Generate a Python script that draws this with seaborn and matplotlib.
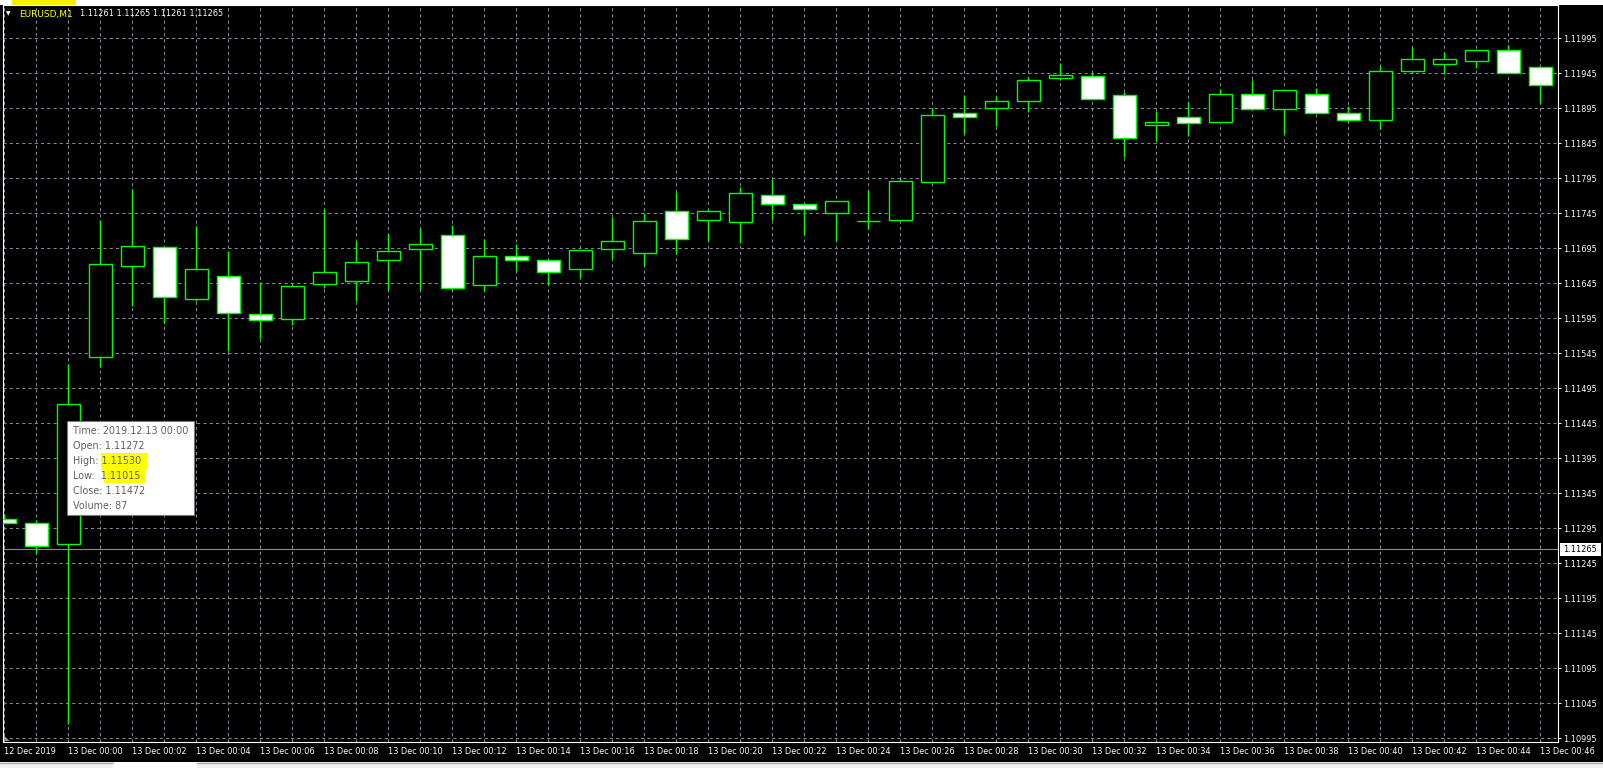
import matplotlib
matplotlib.use("Agg")
import matplotlib.pyplot as plt
from matplotlib.patches import Rectangle, Polygon
from matplotlib.ticker import FixedLocator
import seaborn as sns
import pandas as pd

# ---------------- data ----------------
minutes = list(range(-2, 47))  # minute offsets relative to 13 Dec 00:00
opens = [1.11308, 1.11302, 1.11272, 1.11539, 1.11670, 1.11697, 1.11622, 1.11656,
         1.11601, 1.11594, 1.11644, 1.11649, 1.11679, 1.11694, 1.11714, 1.11642,
         1.11684, 1.11679, 1.11665, 1.11694, 1.11688, 1.11749, 1.11736, 1.11732,
         1.11771, 1.11759, 1.11746, 1.11734, 1.11735, 1.11790, 1.11889, 1.11895,
         1.11906, 1.11939, 1.11941, 1.11914, 1.11871, 1.11882, 1.11875, 1.11916,
         1.11894, 1.11915, 1.11889, 1.11878, 1.11949, 1.11959, 1.11962, 1.11978,
         1.11954]
highs = [1.11316, 1.11307, 1.11530, 1.11736, 1.11780, 1.11699, 1.11727, 1.11691,
         1.11647, 1.11643, 1.11751, 1.11706, 1.11715, 1.11724, 1.11728, 1.11709,
         1.11701, 1.11680, 1.11693, 1.11740, 1.11746, 1.11775, 1.11751, 1.11782,
         1.11794, 1.11760, 1.11762, 1.11779, 1.11794, 1.11896, 1.11914, 1.11912,
         1.11940, 1.11960, 1.11946, 1.11919, 1.11891, 1.11904, 1.11922, 1.11936,
         1.11921, 1.11924, 1.11898, 1.11955, 1.11983, 1.11975, 1.11979, 1.11985,
         1.11955]
lows = [1.11302, 1.11259, 1.11015, 1.11525, 1.11612, 1.11588, 1.11619, 1.11548,
        1.11565, 1.11586, 1.11638, 1.11619, 1.11635, 1.11635, 1.11636, 1.11634,
        1.11662, 1.11643, 1.11653, 1.11680, 1.11670, 1.11688, 1.11705, 1.11703,
        1.11736, 1.11714, 1.11705, 1.11722, 1.11734, 1.11790, 1.11859, 1.11870,
        1.11890, 1.11935, 1.11908, 1.11825, 1.11849, 1.11856, 1.11875, 1.11892,
        1.11859, 1.11888, 1.11875, 1.11866, 1.11946, 1.11944, 1.11953, 1.11946,
        1.11903]
closes = [1.11302, 1.11270, 1.11472, 1.11672, 1.11699, 1.11626, 1.11666, 1.11602,
          1.11592, 1.11641, 1.11661, 1.11676, 1.11691, 1.11701, 1.11638, 1.11684,
          1.11679, 1.11661, 1.11692, 1.11706, 1.11734, 1.11709, 1.11748, 1.11774,
          1.11759, 1.11751, 1.11762, 1.11734, 1.11791, 1.11886, 1.11882, 1.11905,
          1.11936, 1.11942, 1.11909, 1.11852, 1.11876, 1.11874, 1.11916, 1.11894,
          1.11921, 1.11889, 1.11879, 1.11949, 1.11965, 1.11966, 1.11978, 1.11946,
          1.11929]

xtick_minutes = list(range(-2, 47, 2))
xtick_labels = ["12 Dec 2019", "13 Dec 00:00", "13 Dec 00:02", "13 Dec 00:04",
                "13 Dec 00:06", "13 Dec 00:08", "13 Dec 00:10", "13 Dec 00:12",
                "13 Dec 00:14", "13 Dec 00:16", "13 Dec 00:18", "13 Dec 00:20",
                "13 Dec 00:22", "13 Dec 00:24", "13 Dec 00:26", "13 Dec 00:28",
                "13 Dec 00:30", "13 Dec 00:32", "13 Dec 00:34", "13 Dec 00:36",
                "13 Dec 00:38", "13 Dec 00:40", "13 Dec 00:42", "13 Dec 00:44",
                "13 Dec 00:46"]
ytick_values = [1.10995, 1.11045, 1.11095, 1.11145, 1.11195, 1.11245, 1.11295,
                1.11345, 1.11395, 1.11445, 1.11495, 1.11545, 1.11595, 1.11645,
                1.11695, 1.11745, 1.11795, 1.11845, 1.11895, 1.11945, 1.11995]
current_price = 1.11265
header_symbol = "EURUSD,M1"
header_quotes = "1.11261 1.11265 1.11261 1.11265"
tooltip_lines = ["Time: 2019.12.13 00:00", "Open: 1.11272", "High: 1.11530",
                 "Low:  1.11015", "Close: 1.11472", "Volume: 87"]

# ---------------- style ----------------
W, H = 1603, 768
GREEN = "#00ff00"
GRID = "#7f8a96"

sns.set_theme(style="dark", rc={"axes.facecolor": "black", "figure.facecolor": "black"})
plt.rcParams["font.family"] = ["DejaVu Sans"]

df = pd.DataFrame({"minute": minutes, "open": opens, "high": highs,
                   "low": lows, "close": closes})
df["bull"] = df["close"] >= df["open"]

fig = plt.figure(figsize=(W / 100, H / 100), dpi=100, facecolor="black")


def fx(px):
    return px / W


def fy(py):
    return 1 - py / H


left, right, top, bottom = 3.3, 1558.0, 5.0, 741.7
ax = fig.add_axes([fx(left), fy(bottom), fx(right - left), (bottom - top) / H])
ax.set_facecolor("black")

# grid
ax.xaxis.set_major_locator(FixedLocator(xtick_minutes))
ax.xaxis.set_minor_locator(FixedLocator(list(range(-1, 47, 2))))
ax.set_xticklabels(xtick_labels)
ax.yaxis.set_major_locator(FixedLocator(ytick_values))
ax.set_yticklabels([f"{v:.5f}" for v in ytick_values])
ax.set_axisbelow(True)
ax.grid(True, which="both", axis="x", color=GRID, linestyle=(0, (3, 3)), linewidth=0.75)
ax.grid(True, which="major", axis="y", color=GRID, linestyle=(0, (3, 3)), linewidth=0.75)

# current price line
ax.axhline(current_price, color="#8c8c8c", linewidth=0.8, zorder=1)

# candles
ax.vlines(df["minute"], df["low"], df["high"], color=GREEN, linewidth=1.0, zorder=2)
ax.bar(df["minute"], df["close"] - df["open"], bottom=df["open"], width=0.72,
       color=["black" if b else "white" for b in df["bull"]],
       edgecolor=GREEN, linewidth=1.0, zorder=3)

ax.set_xlim(-2.031, 46.55)
ax.set_ylim(1.109901, 1.120426)

for s in ax.spines.values():
    s.set_color("white")
    s.set_linewidth(0.8)

ax.yaxis.tick_right()
ax.tick_params(axis="y", which="major", colors="white", labelsize=5.9, length=2.2,
               width=0.7, pad=1.5, direction="out", right=True, left=False)
ax.tick_params(axis="x", which="major", colors="white", labelsize=5.9, length=2.2,
               width=0.7, pad=1.6, direction="out")
ax.tick_params(axis="x", which="minor", length=0)
for t in ax.get_xticklabels():
    t.set_horizontalalignment("left")

# current price label on the right axis
py = 38.3 + (1.11995 - current_price) * 70000
fig.patches.append(Rectangle((fx(1559.5), fy(py + 6.2)), fx(41), 12.4 / H,
                             transform=fig.transFigure, facecolor="white",
                             edgecolor="none", zorder=5))
fig.text(fx(1563), fy(py), f"{current_price:.5f}", color="black", fontsize=5.9,
         va="center", ha="left", zorder=6)

# top white strip + yellow marker
fig.patches.append(Rectangle((0, fy(top)), 1, top / H, transform=fig.transFigure,
                             facecolor="white", edgecolor="none", zorder=4))
fig.patches.append(Rectangle((fx(12), fy(4.6)), fx(64), 4.6 / H, transform=fig.transFigure,
                             facecolor="#f6f000", edgecolor="none", zorder=5))

# header
fig.text(fx(6), fy(14), "\u25BC", color="white", fontsize=4.2, va="center", ha="left")
fig.text(fx(19.5), fy(14), header_symbol, color="#ffff00", fontsize=6.5, va="center", ha="left")
fig.text(fx(80.5), fy(14), header_quotes, color="white", fontsize=5.9, va="center", ha="left")

# bottom strip (tabs)
fig.patches.append(Rectangle((0, 0), 1, 6 / H, transform=fig.transFigure,
                             facecolor="#f0f0f0", edgecolor="none", zorder=4))
fig.patches.append(Rectangle((fx(113), 0), fx(84), 6 / H, transform=fig.transFigure,
                             facecolor="white", edgecolor="none", zorder=4))
fig.lines.append(plt.Line2D([0, fx(113)], [fy(762.5)] * 2, transform=fig.transFigure,
                            color="#a0a0a0", linewidth=0.8, zorder=5))
fig.lines.append(plt.Line2D([fx(197), 1], [fy(762.5)] * 2, transform=fig.transFigure,
                            color="#a0a0a0", linewidth=0.8, zorder=5))

# corner marker
fig.patches.append(Polygon([(fx(4), fy(741)), (fx(4), fy(735.5)), (fx(9.5), fy(741))],
                           closed=True, transform=fig.transFigure,
                           facecolor="#9a9a9a", edgecolor="none", zorder=5))

# tooltip
fig.patches.append(Rectangle((fx(66.7), fy(515)), fx(127.6), 94 / H,
                             transform=fig.transFigure, facecolor="white",
                             edgecolor="#7a7a7a", linewidth=0.8, zorder=7))
fig.patches.append(Rectangle((fx(101.5), fy(469.5)), fx(45), 17 / H,
                             transform=fig.transFigure, facecolor="#ffff00",
                             edgecolor="none", zorder=8))
fig.patches.append(Rectangle((fx(103.5), fy(483)), fx(41), 14 / H,
                             transform=fig.transFigure, facecolor="#ffff00",
                             edgecolor="none", zorder=8))
line_y = [430.7, 446.0, 460.7, 475.7, 491.0, 505.7]
for ty, txt in zip(line_y, tooltip_lines):
    fig.text(fx(72.7), fy(ty), txt, color="#5f5f5f", fontsize=6.9, va="center",
             ha="left", zorder=9)

fig.savefig("out.png", dpi=100, facecolor="black")
